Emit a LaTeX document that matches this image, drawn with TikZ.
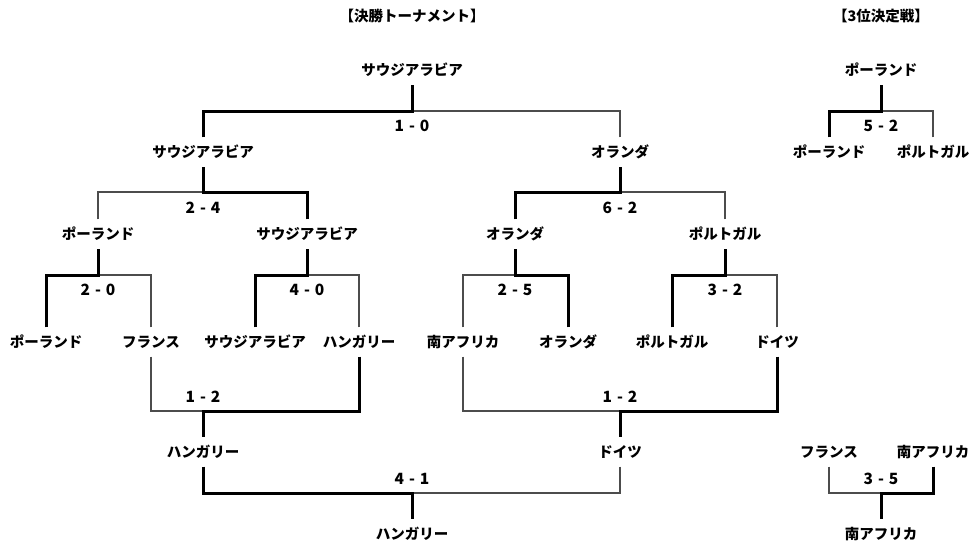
\documentclass[tikz,border=0pt]{standalone}
\usepackage{fontspec}
\setmainfont{Noto Sans CJK JP}
\begin{document}
\begin{tikzpicture}[x=1pt,y=-1pt,
  team/.style={font=\fontsize{14.5}{14.5}\selectfont\bfseries, inner sep=0pt, minimum height=29pt, text height=10.5pt, text depth=0pt},
  score/.style={font=\fontsize{15.5}{15.5}\selectfont\bfseries, inner sep=0pt},
  title/.style={font=\fontsize{14.5}{14.5}\selectfont\bfseries, inner sep=0pt},
  winline/.style={draw=black, line width=3pt, line join=miter},
  loseline/.style={draw=black!70, line width=1.6pt},
]
\newcommand{\mscore}[2]{#1\hspace{0.32em}-\hspace{0.32em}#2}
\useasboundingbox (0,0) rectangle (971,544);
% titles
\node[title] (t1) at (412,16) {【決勝トーナメント】};
\node[title] (t2) at (881,16) {【3位決定戦】};
% teams
\node[team] (f)  at (412,70)  {サウジアラビア};
\node[team] (s1) at (203,152) {サウジアラビア};
\node[team] (s2) at (620,152) {オランダ};
\node[team] (q1) at (98,234)  {ポーランド};
\node[team] (q2) at (307,234) {サウジアラビア};
\node[team] (q3) at (515,234) {オランダ};
\node[team] (q4) at (725,234) {ポルトガル};
\node[team] (r1) at (46,342)  {ポーランド};
\node[team] (r2) at (151,342) {フランス};
\node[team] (r3) at (255,342) {サウジアラビア};
\node[team] (r4) at (359,342) {ハンガリー};
\node[team] (r5) at (463,342) {南アフリカ};
\node[team] (r6) at (568,342) {オランダ};
\node[team] (r7) at (672,342) {ポルトガル};
\node[team] (r8) at (777,342) {ドイツ};
\node[team] (b1) at (203,452) {ハンガリー};
\node[team] (b2) at (620,452) {ドイツ};
\node[team] (bf) at (412,534) {ハンガリー};
\node[team] (p)  at (881,70)  {ポーランド};
\node[team] (p1) at (829,152) {ポーランド};
\node[team] (p2) at (933,152) {ポルトガル};
\node[team] (u1) at (829,452) {フランス};
\node[team] (u2) at (933,452) {南アフリカ};
\node[team] (u)  at (881,534) {南アフリカ};
% junctions and scores
\coordinate (jf) at (412,111);  \node[score] (sf) at (412,126) {\mscore10};
\coordinate (js1) at (203,192); \node[score] (ss1) at (203,208) {\mscore24};
\coordinate (js2) at (620,192); \node[score] (ss2) at (620,208) {\mscore62};
\coordinate (jq1) at (98,275);  \node[score] (sq1) at (98,290) {\mscore20};
\coordinate (jq2) at (307,275); \node[score] (sq2) at (307,290) {\mscore40};
\coordinate (jq3) at (515,275); \node[score] (sq3) at (515,290) {\mscore25};
\coordinate (jq4) at (725,275); \node[score] (sq4) at (725,290) {\mscore32};
\coordinate (jb1) at (203,411); \node[score] (sb1) at (203,397) {\mscore12};
\coordinate (jb2) at (620,411); \node[score] (sb2) at (620,397) {\mscore12};
\coordinate (jbf) at (412,493); \node[score] (sbf) at (412,479) {\mscore41};
\coordinate (jp) at (881,111);  \node[score] (sp) at (881,126) {\mscore52};
\coordinate (ju) at (881,493);  \node[score] (su) at (881,479) {\mscore35};
% connectors: losers thin, winners thick
\path[loseline] (s2.north) |- (jf);
\path[winline]  (s1.north) |- (jf) -- (f.south);
\path[loseline] (q1.north) |- (js1);
\path[winline]  (q2.north) |- (js1) -- (s1.south);
\path[loseline] (q4.north) |- (js2);
\path[winline]  (q3.north) |- (js2) -- (s2.south);
\path[loseline] (r2.north) |- (jq1);
\path[winline]  (r1.north) |- (jq1) -- (q1.south);
\path[loseline] (r4.north) |- (jq2);
\path[winline]  (r3.north) |- (jq2) -- (q2.south);
\path[loseline] (r5.north) |- (jq3);
\path[winline]  (r6.north) |- (jq3) -- (q3.south);
\path[loseline] (r8.north) |- (jq4);
\path[winline]  (r7.north) |- (jq4) -- (q4.south);
\path[loseline] (r2.south) |- (jb1);
\path[winline]  (r4.south) |- (jb1) -- (b1.north);
\path[loseline] (r5.south) |- (jb2);
\path[winline]  (r8.south) |- (jb2) -- (b2.north);
\path[loseline] (b2.south) |- (jbf);
\path[winline]  (b1.south) |- (jbf) -- (bf.north);
\path[loseline] (p2.north) |- (jp);
\path[winline]  (p1.north) |- (jp) -- (p.south);
\path[loseline] (u1.south) |- (ju);
\path[winline]  (u2.south) |- (ju) -- (u.north);
\end{tikzpicture}
\end{document}
